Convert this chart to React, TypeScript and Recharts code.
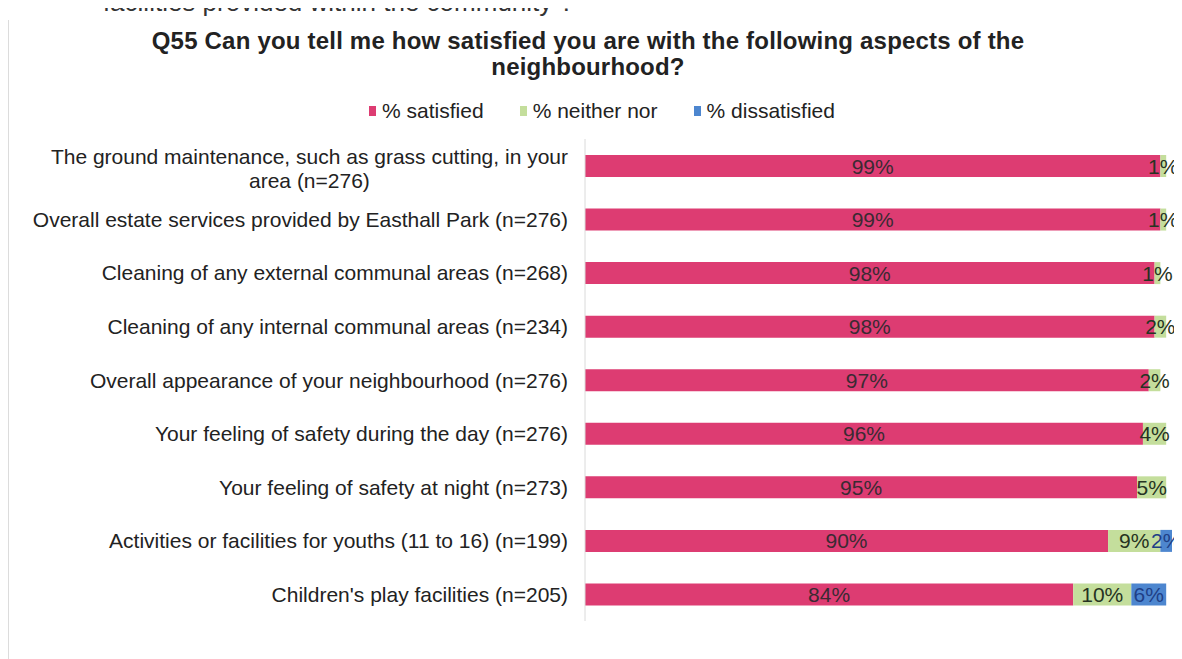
import React from "react";
import { Bar, BarChart, LabelList, XAxis, YAxis } from "recharts";

const categories = [
    "The ground maintenance, such as grass cutting, in your\narea (n=276)",
    "Overall estate services provided by Easthall Park (n=276)",
    "Cleaning of any external communal areas (n=268)",
    "Cleaning of any internal communal areas (n=234)",
    "Overall appearance of your neighbourhood (n=276)",
    "Your feeling of safety during the day (n=276)",
    "Your feeling of safety at night (n=273)",
    "Activities or facilities for youths (11 to 16) (n=199)",
    "Children's play facilities (n=205)",
];

const satisfied = [99, 99, 98, 98, 97, 96, 95, 90, 84];
const neither = [1, 1, 1, 2, 2, 4, 5, 9, 10];
const dissatisfied = [0, 0, 0, 0, 0, 0, 0, 2, 6];

const series = [
    { key: "satisfied", name: "% satisfied", color: "#dd3c72", labelColor: "#3a2a33" },
    { key: "neither", name: "% neither nor", color: "#c4de9c", labelColor: "#263322" },
    { key: "dissatisfied", name: "% dissatisfied", color: "#4d86cf", labelColor: "#1f3f86" },
];

const data = categories.map((name, i) => ({
    name,
    satisfied: satisfied[i],
    neither: neither[i],
    dissatisfied: dissatisfied[i],
}));

const FONT = '"Liberation Sans", Arial, sans-serif';
const TICK_SIZE = 21;

let ctx: CanvasRenderingContext2D | null = null;
const measure = (text: string) => {
    if (!ctx) ctx = document.createElement("canvas").getContext("2d");
    if (!ctx) return text.length * 9;
    ctx.font = `${TICK_SIZE}px ${FONT}`;
    return ctx.measureText(text).width;
};

// right-aligned block, lines centred inside it (like the excel export)
const CategoryTick = ({ x, y, payload }: any) => {
    const lines = String(payload.value).split("\n");
    const maxW = Math.max(...lines.map(measure));
    const cx = x - maxW / 2;
    const lineH = 24;
    const startY = y - ((lines.length - 1) * lineH) / 2 + (lines.length > 1 ? 3 : 0);
    return (
        <g>
            {lines.map((line, i) => (
                <text
                    key={i}
                    x={cx}
                    y={startY + i * lineH}
                    dy="0.36em"
                    textAnchor="middle"
                    fill="#222"
                    fontSize={TICK_SIZE}
                    fontFamily={FONT}
                >
                    {line}
                </text>
            ))}
        </g>
    );
};

const segmentLabel = (color: string) => (props: any) => {
    const { x, y, width, height, value } = props;
    if (!value) return null;
    return (
        <text
            x={x + width / 2}
            y={y + height / 2}
            dy="0.36em"
            textAnchor="middle"
            fill={color}
            fontSize={21}
            fontFamily={FONT}
        >
            {`${value}%`}
        </text>
    );
};

export default function App() {
    return (
        <div style={{ position: "relative", width: 1174, height: 651, fontFamily: FONT, color: "#222" }}>
            <div
                style={{
                    position: "absolute",
                    top: -21,
                    left: -8,
                    width: 574,
                    textAlign: "right",
                    fontSize: 26,
                    whiteSpace: "nowrap",
                    color: "#333",
                }}
            >
                facilities provided within the community ?
            </div>
            <div style={{ position: "absolute", left: 0, top: 12, bottom: 0, borderLeft: "1px solid #dcdcdc" }} />
            <div
                style={{
                    position: "absolute",
                    top: 20,
                    left: 0,
                    width: 1160,
                    textAlign: "center",
                    fontWeight: "bold",
                    fontSize: 24,
                    letterSpacing: 0.2,
                    lineHeight: "26px",
                }}
            >
                Q55 Can you tell me how satisfied you are with the following aspects of the
                <br />
                neighbourhood?
            </div>
            <div
                style={{
                    position: "absolute",
                    top: 90,
                    left: 14,
                    width: 1160,
                    display: "flex",
                    justifyContent: "center",
                    fontSize: 21,
                    lineHeight: "26px",
                }}
            >
                {series.map((s) => (
                    <div key={s.key} style={{ display: "flex", alignItems: "center", margin: "0 18px" }}>
                        <span style={{ display: "inline-block", width: 7, height: 10, background: s.color, marginRight: 6 }} />
                        <span>{s.name}</span>
                    </div>
                ))}
            </div>
            <div style={{ position: "absolute", top: 0, left: 0 }}>
                <BarChart
                    width={1174}
                    height={651}
                    data={data}
                    layout="vertical"
                    margin={{ top: 131, right: 10, bottom: 38, left: 0 }}
                    barSize={22}
                >
                    <XAxis type="number" domain={[0, 100]} hide />
                    <YAxis
                        type="category"
                        dataKey="name"
                        width={577}
                        axisLine={{ stroke: "#dadada" }}
                        tickLine={false}
                        tickMargin={11}
                        tick={<CategoryTick />}
                        interval={0}
                    />
                    {series.map((s) => (
                        <Bar
                            key={s.key}
                            dataKey={s.key}
                            name={s.name}
                            stackId="a"
                            fill={s.color}
                            isAnimationActive={false}
                        >
                            <LabelList dataKey={s.key} content={segmentLabel(s.labelColor)} />
                        </Bar>
                    ))}
                </BarChart>
            </div>
        </div>
    );
}
